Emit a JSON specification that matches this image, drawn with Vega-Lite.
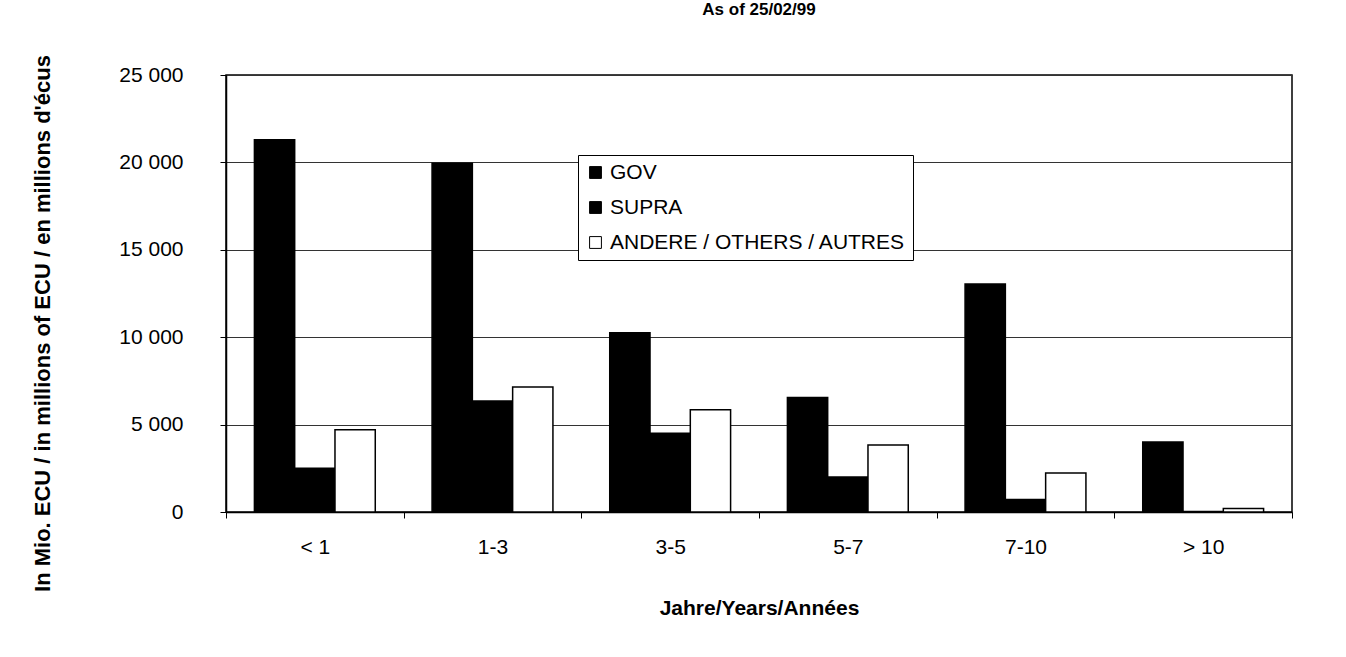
{
  "$schema": "https://vega.github.io/schema/vega-lite/v6.json",
  "autosize": "none",
  "width": 1066,
  "height": 437,
  "padding": {"left": 226, "top": 75, "right": 54, "bottom": 145},
  "background": "white",
  "title": {"text": "As of 25/02/99", "anchor": "middle", "frame": "group", "offset": 19, "fontSize": 17, "font": "Liberation Sans", "fontWeight": "bold", "baseline": "bottom", "color": "#000"},
  "config": {
    "font": "Liberation Sans",
    "view": {"stroke": "#000", "strokeWidth": 1.5}
  },
  "data": {
    "values": [
      {"maturity": "< 1", "series": "GOV", "value": 21300},
      {"maturity": "< 1", "series": "SUPRA", "value": 2500},
      {"maturity": "< 1", "series": "ANDERE / OTHERS / AUTRES", "value": 4700},
      {"maturity": "1-3", "series": "GOV", "value": 19950},
      {"maturity": "1-3", "series": "SUPRA", "value": 6350},
      {"maturity": "1-3", "series": "ANDERE / OTHERS / AUTRES", "value": 7150},
      {"maturity": "3-5", "series": "GOV", "value": 10250},
      {"maturity": "3-5", "series": "SUPRA", "value": 4500},
      {"maturity": "3-5", "series": "ANDERE / OTHERS / AUTRES", "value": 5850},
      {"maturity": "5-7", "series": "GOV", "value": 6550},
      {"maturity": "5-7", "series": "SUPRA", "value": 2000},
      {"maturity": "5-7", "series": "ANDERE / OTHERS / AUTRES", "value": 3830},
      {"maturity": "7-10", "series": "GOV", "value": 13050},
      {"maturity": "7-10", "series": "SUPRA", "value": 720},
      {"maturity": "7-10", "series": "ANDERE / OTHERS / AUTRES", "value": 2230},
      {"maturity": "> 10", "series": "GOV", "value": 4000},
      {"maturity": "> 10", "series": "SUPRA", "value": 30},
      {"maturity": "> 10", "series": "ANDERE / OTHERS / AUTRES", "value": 200}
    ]
  },
  "mark": {"type": "bar", "stroke": "#000", "strokeWidth": 1.5},
  "encoding": {
    "x": {
      "field": "maturity",
      "type": "nominal",
      "sort": ["< 1", "1-3", "3-5", "5-7", "7-10", "> 10"],
      "scale": {"paddingInner": 0, "paddingOuter": 0},
      "axis": {
        "title": "Jahre/Years/Années",
        "titleFont": "Liberation Sans",
        "titleFontSize": 21,
        "titleFontWeight": "bold",
        "titleColor": "#000",
        "titleBaseline": "middle",
        "titleY": 96,
        "labelAngle": 0,
        "labelFontSize": 21,
        "labelColor": "#000",
        "labelPadding": 18,
        "tickBand": "extent",
        "tickSize": 6,
        "tickColor": "#000",
        "domainColor": "#000",
        "domainWidth": 1.5,
        "grid": false
      }
    },
    "xOffset": {
      "field": "series",
      "type": "nominal",
      "sort": ["GOV", "SUPRA", "ANDERE / OTHERS / AUTRES"],
      "scale": {"paddingInner": 0, "paddingOuter": 0.705}
    },
    "y": {
      "field": "value",
      "type": "quantitative",
      "scale": {"domain": [0, 25000], "nice": false},
      "axis": {
        "values": [0, 5000, 10000, 15000, 20000, 25000],
        "labelExpr": "replace(format(datum.value, ','), ',', ' ')",
        "title": "In Mio. ECU / in millions of ECU / en millions d'écus",
        "titleFont": "Liberation Sans",
        "titleFontSize": 22,
        "titleFontWeight": "bold",
        "titleColor": "#000",
        "titleAngle": 270,
        "titleAlign": "center",
        "titleBaseline": "middle",
        "titleX": -184,
        "titleY": 248,
        "labelFontSize": 21,
        "labelColor": "#000",
        "labelPadding": 37,
        "tickSize": 6,
        "tickColor": "#000",
        "domainColor": "#000",
        "domainWidth": 1.5,
        "gridColor": "#333",
        "gridWidth": 1
      }
    },
    "fill": {
      "field": "series",
      "type": "nominal",
      "sort": ["GOV", "SUPRA", "ANDERE / OTHERS / AUTRES"],
      "scale": {"domain": ["GOV", "SUPRA", "ANDERE / OTHERS / AUTRES"], "range": ["#000", "#000", "#fff"]},
      "legend": {
        "title": null,
        "orient": "none",
        "legendX": 352,
        "legendY": 80,
        "fillColor": "#fff",
        "strokeColor": "#000",
        "padding": 7,
        "rowPadding": 13,
        "symbolType": "square",
        "symbolSize": 140,
        "symbolStrokeColor": "#000",
        "symbolStrokeWidth": 1,
        "labelFontSize": 21,
        "labelColor": "#000",
        "labelOffset": 4,
        "labelLimit": 400
      }
    }
  }
}
